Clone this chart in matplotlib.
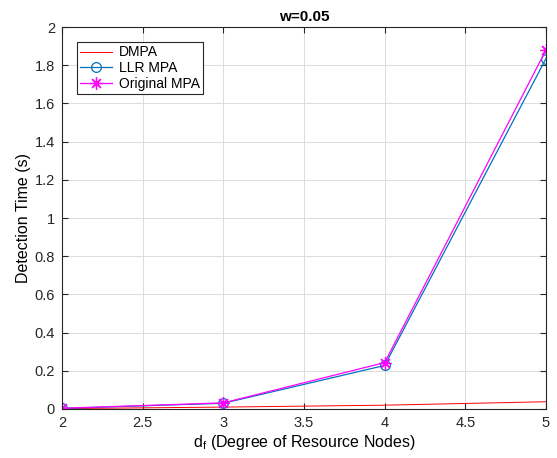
import matplotlib
matplotlib.use("Agg")
import matplotlib.pyplot as plt
import numpy as np

plt.rcParams['font.family'] = ['Liberation Sans', 'DejaVu Sans']

df = [2, 3, 4, 5]
dmpa = [0.002, 0.010, 0.020, 0.038]
llr_mpa = [0.003, 0.030, 0.228, 1.835]
orig_mpa = [0.004, 0.032, 0.243, 1.880]

fig = plt.figure(figsize=(5.57, 4.58), dpi=100)
ax = fig.add_axes([62/557, 49/458, 484/557, 382/458])

ax.plot(df, dmpa, color='#ff0000', lw=0.7, label='DMPA')
ax.plot(df, llr_mpa, color='#0072bd', lw=0.9, marker='o', ms=7, mfc='none',
        mec='#0072bd', mew=0.9, label='LLR MPA')
ax.plot(df, orig_mpa, color='#ff00ff', lw=0.9, marker=(8, 2, 0), ms=9,
        mec='#ff00ff', mew=0.9, label='Original MPA')

ax.set_xlim(2, 5)
ax.set_ylim(0, 2)
ax.set_xticks(np.arange(2, 5.01, 0.5))
ax.set_xticklabels(['2', '2.5', '3', '3.5', '4', '4.5', '5'])
ax.set_yticks(np.arange(0, 2.01, 0.2))
ax.set_yticklabels(['0', '0.2', '0.4', '0.6', '0.8', '1', '1.2', '1.4', '1.6', '1.8', '2'])
ax.tick_params(direction='in', labelsize=10.5, length=4, top=True, right=True,
               labeltop=False, labelright=False, pad=5, colors='#262626')
ax.grid(True, color='#dcdcdc', lw=0.7)
ax.set_axisbelow(True)
for s in ax.spines.values():
    s.set_linewidth(0.8)
    s.set_color('#262626')

ax.set_title('w=0.05', fontsize=11, fontweight='bold', pad=4)
ax.set_xlabel(r'd$_{\mathregular{f}}$ (Degree of Resource Nodes)', fontsize=11.5, labelpad=2)
ax.set_ylabel('Detection Time (s)', fontsize=11.5, labelpad=3)

leg = ax.legend(loc='upper left', bbox_to_anchor=(15/484, 1 - 15/382), fontsize=10,
                fancybox=False, framealpha=1, edgecolor='#262626',
                borderpad=0.25, labelspacing=0.12, handlelength=2.3,
                handletextpad=0.45, borderaxespad=0.0)
leg.get_frame().set_linewidth(0.8)

fig.savefig('out.png', dpi=100)
